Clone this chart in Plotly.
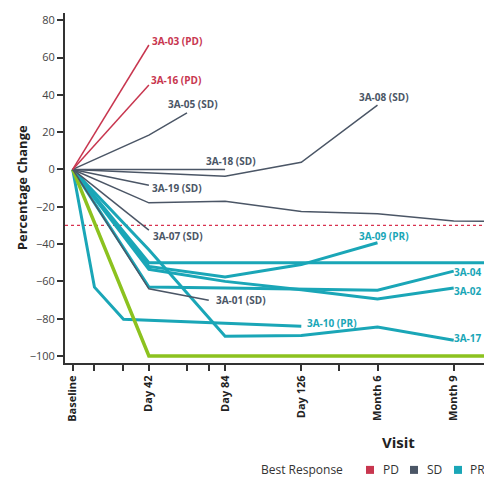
import plotly.graph_objects as go

# ---------------- data ----------------
# visit positions (days) and labels
TICK_DAYS = [0, 12, 28, 42, 63, 75, 84, 126, 147, 168, 210]
TICK_LABELS = ["Baseline", "", "", "Day 42", "", "", "Day 84", "Day 126", "", "Month 6", "Month 9"]

# PD
pd03_x = [0, 42];            pd03_y = [0, 66.7]
pd16_x = [0, 42];            pd16_y = [0, 45.2]
# SD
sd05_x = [0, 42, 63];        sd05_y = [0, 18.4, 30.3]
sd18_x = [0, 84];            sd18_y = [0, 0]
sd08_x = [0, 84, 126, 168];  sd08_y = [0, -3.6, 3.8, 34.5]
sd19_x = [0, 42];            sd19_y = [0, -8.5]
sdxx_x = [0, 42, 84, 126, 168, 210, 250]; sdxx_y = [0, -17.9, -17, -22.6, -23.7, -27.7, -28]
sd07_x = [0, 42];            sd07_y = [0, -32.5]
sd01_x = [0, 42, 75];        sd01_y = [0, -64, -70.1]
# PR
pr10_x = [0, 12, 28, 126];   pr10_y = [0, -63.1, -80.3, -84.1]
pr17_x = [0, 42, 84, 126, 168, 210]; pr17_y = [0, -43, -89.4, -89, -84.5, -91.5]
pr09_x = [0, 42, 84, 126, 168];      pr09_y = [0, -52, -57.6, -51, -39.3]
pr04_x = [0, 42, 84, 126, 168, 210]; pr04_y = [0, -63, -63.5, -64, -64.7, -54.5]
pr02_x = [0, 42, 84, 126, 168, 210]; pr02_y = [0, -53.5, -60, -64.5, -69.5, -63.5]
prxx_x = [0, 42, 84, 126, 168, 210, 250]; prxx_y = [0, -50, -50, -50, -50, -50, -50]
# CR (green)
cr_x = [0, 42, 84, 126, 168, 210, 250]; cr_y = [0, -100, -100, -100, -100, -100, -100]

THRESHOLD = -30

# ---------------- styles ----------------
C_PD = "#c8364f"
C_SD = "#4b5666"
C_PR = "#1aa6b7"
C_CR = "#8cc21f"
FONT = "Open Sans"

fig = go.Figure()

def add(x, y, color, width):
    fig.add_trace(go.Scatter(x=x, y=y, mode="lines",
                             line=dict(color=color, width=width),
                             showlegend=False, hoverinfo="skip"))

# draw order: PR first, then green, then SD/PD on top
for x, y in [(pr10_x, pr10_y), (pr17_x, pr17_y), (pr09_x, pr09_y),
             (pr04_x, pr04_y), (pr02_x, pr02_y), (prxx_x, prxx_y)]:
    add(x, y, C_PR, 3)
add(cr_x, cr_y, C_CR, 3.5)
for x, y in [(sd05_x, sd05_y), (sd18_x, sd18_y), (sd08_x, sd08_y), (sd19_x, sd19_y),
             (sdxx_x, sdxx_y), (sd07_x, sd07_y), (sd01_x, sd01_y)]:
    add(x, y, C_SD, 1.5)
for x, y in [(pd03_x, pd03_y), (pd16_x, pd16_y)]:
    add(x, y, C_PD, 1.5)

# threshold line
fig.add_shape(type="line", xref="paper", x0=0, x1=1, yref="y", y0=THRESHOLD, y1=THRESHOLD,
              line=dict(color="#d8324f", width=1.2, dash="dot"), layer="below")

# series labels (text, x, y, color)
labels = [
    ("3A-03 (PD)", 42.6, 68.8, C_PD),
    ("3A-16 (PD)", 42.1, 47.9, C_PD),
    ("3A-05 (SD)", 51.4, 35.0, C_SD),
    ("3A-18 (SD)", 72.4, 4.5, C_SD),
    ("3A-08 (SD)", 156.7, 38.8, C_SD),
    ("3A-19 (SD)", 42.6, -10.0, C_SD),
    ("3A-07 (SD)", 43.2, -35.8, C_SD),
    ("3A-01 (SD)", 77.9, -70.1, C_SD),
    ("3A-09 (PR)", 156.7, -35.8, C_PR),
    ("3A-10 (PR)", 128.1, -82.5, C_PR),
]
for t, x, y, c in labels:
    fig.add_annotation(x=x, y=y, xref="x", yref="y", text=t, showarrow=False,
                       xanchor="left", yanchor="middle",
                       font=dict(family=FONT, size=10, color=c, weight="bold"))

# labels at the right edge (cut off in the source image)
for t, y in [("3A-04", -55.1), ("3A-02", -65.3), ("3A-17", -90.5)]:
    fig.add_annotation(x=1, y=y, xref="paper", yref="y", text=t, showarrow=False,
                       xanchor="right", yanchor="middle",
                       font=dict(family=FONT, size=10, color=C_PR, weight="bold"))

# pixel -> paper helpers (plot area: x 65..484, y 13..362.7)
def pxx(px):
    return (px - 65) / 419.0

def pxy(py):
    return (362.7 - py) / 349.7

# axis titles
fig.add_annotation(x=pxx(22), y=pxy(188), xref="paper", yref="paper",
                   text="Percentage Change", textangle=-90, showarrow=False,
                   xanchor="center", yanchor="middle",
                   font=dict(family=FONT, size=13, color="#222", weight="bold"))
fig.add_annotation(x=pxx(398), y=pxy(442), xref="paper", yref="paper",
                   text="Visit", showarrow=False, xanchor="center", yanchor="middle",
                   font=dict(family=FONT, size=15, color="#222", weight="bold"))

# legend
LEG_Y = 469.5
fig.add_annotation(x=pxx(259), y=pxy(LEG_Y), xref="paper", yref="paper",
                   text="Best Response", showarrow=False, xanchor="left", yanchor="middle",
                   font=dict(family=FONT, size=12, color="#333"))
for sx, tx, txt, c in [(366, 381, "PD", C_PD), (410, 425, "SD", C_SD), (454, 468, "PR", C_PR)]:
    fig.add_shape(type="rect", xref="paper", yref="paper",
                  x0=pxx(sx), x1=pxx(sx + 8), y0=pxy(LEG_Y + 4), y1=pxy(LEG_Y - 4),
                  fillcolor=c, line=dict(width=0))
    fig.add_annotation(x=pxx(tx), y=pxy(LEG_Y), xref="paper", yref="paper",
                       text=txt, showarrow=False, xanchor="left", yanchor="middle",
                       font=dict(family=FONT, size=12, color="#333"))

fig.update_layout(
    width=484, height=478,
    margin=dict(l=65, r=0, t=13, b=115.3, autoexpand=False),
    paper_bgcolor="white", plot_bgcolor="white",
    showlegend=False,
    font=dict(family=FONT, color="#333"),
)
fig.update_xaxes(range=[-4.24, 226.7], showgrid=False, zeroline=False, automargin=False,
                 showline=True, linecolor="#333", linewidth=2,
                 tickmode="array", tickvals=TICK_DAYS, ticktext=TICK_LABELS,
                 ticks="outside", ticklen=6, tickwidth=1.5, tickcolor="#333",
                 tickangle=-90, tickfont=dict(family=FONT, size=11, color="#222", weight="bold"))
fig.update_yaxes(range=[-103.75, 83.85], showgrid=False, zeroline=False, automargin=False,
                 showline=True, linecolor="#333", linewidth=2,
                 tickmode="array", tickvals=[80, 60, 40, 20, 0, -20, -40, -60, -80, -100],
                 ticks="outside", ticklen=6, tickwidth=1.5, tickcolor="#333",
                 tickfont=dict(family=FONT, size=11, color="#444"))

fig.write_html("out.html", config={"displayModeBar": False},
               post_script="document.body.style.margin='0';document.body.style.overflow='hidden';")
